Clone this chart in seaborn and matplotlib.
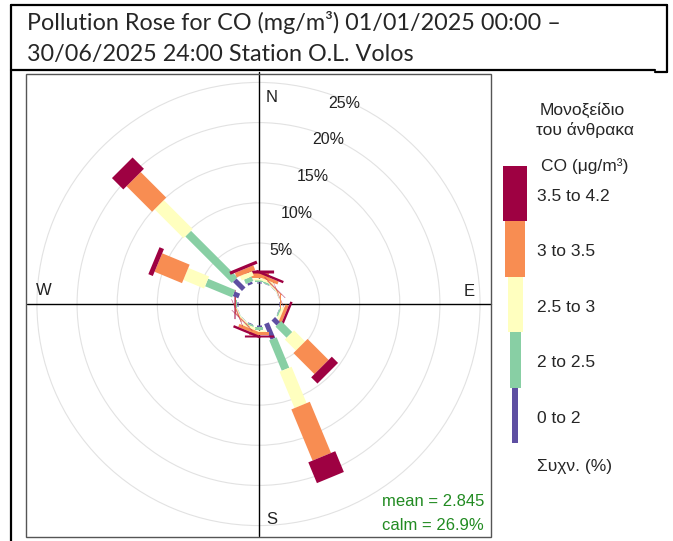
import numpy as np
import matplotlib
matplotlib.use("Agg")
import matplotlib.pyplot as plt
from matplotlib.lines import Line2D
from matplotlib.patches import Rectangle
import seaborn as sns

# wind directions (degrees) and % frequency of each CO interval per direction
directions = [0, 22.5, 45, 67.5, 90, 112.5, 135, 157.5,
              180, 202.5, 225, 247.5, 270, 292.5, 315, 337.5]
co_0_2 = [0.10, 0.05, 0.02, 0.02, 0.02, 0.05, 0.90, 2.10,
          0.30, 0.10, 0.02, 0.02, 0.05, 0.75, 1.60, 0.30]
co_2_25 = [0.30, 0.20, 0.05, 0.03, 0.03, 0.20, 1.95, 4.10,
           0.30, 0.20, 0.05, 0.05, 0.10, 3.65, 8.20, 0.60]
co_25_3 = [0.30, 0.30, 0.10, 0.05, 0.05, 0.30, 1.95, 4.90,
           0.30, 0.30, 0.10, 0.08, 0.10, 2.80, 5.10, 0.60]
co_3_35 = [0.50, 0.40, 0.10, 0.05, 0.10, 0.40, 3.70, 6.90,
           0.40, 0.40, 0.10, 0.10, 0.10, 3.70, 4.50, 0.60]
co_35_42 = [0.40, 0.30, 0.05, 0.03, 0.05, 0.30, 1.10, 2.80,
            0.20, 0.30, 0.05, 0.05, 0.05, 0.60, 2.00, 0.40]

bins = ["0 to 2", "2 to 2.5", "2.5 to 3", "3 to 3.5", "3.5 to 4.2"]
ring_pct = [5, 10, 15, 20, 25]
mean_val = 2.845
calm_pct = 26.9

palette = sns.color_palette(["#5E4FA2", "#88CFA4", "#FFFFBF", "#F88D52", "#9E0142"])
paddle_lw = [3.6, 5.8, 9.4, 14.4, 21.0]    # points
key_w = [6, 11, 15, 20, 24]                 # legend key widths (px)

sns.set_theme(style="white")
plt.rcParams["font.family"] = ["Liberation Sans", "DejaVu Sans"]

W, H = 673, 541
fig = plt.figure(figsize=(W / 100, H / 100), dpi=100)


def fbox(x0, y0, x1, y1):
    return [x0 / W, 1 - y1 / H, (x1 - x0) / W, (y1 - y0) / H]


# table lines and title
for (x0, y0, x1, y1) in [(11, 5, 667, 5), (11, 5, 11, 541), (667, 5, 667, 72),
                         (11, 70, 655, 70), (655, 72, 667, 72)]:
    fig.add_artist(Line2D([x0 / W, x1 / W], [1 - y0 / H, 1 - y1 / H],
                          color="black", lw=1.6))
fig.text(27 / W, 1 - 23 / H, "Pollution Rose for CO (mg/m³) 01/01/2025 00:00 –",
         family=["Lato", "DejaVu Sans"], fontsize=16.8, va="center", ha="left")
fig.text(27 / W, 1 - 55 / H, "30/06/2025 24:00 Station O.L. Volos",
         family=["Lato", "DejaVu Sans"], fontsize=16.8, va="center", ha="left")

# panel border
fig.add_artist(Rectangle((26 / W, 1 - 537 / H), 465 / W, 463 / H,
                         transform=fig.transFigure, fill=False,
                         edgecolor="#555555", lw=1.0))

# rose
ax = fig.add_axes(fbox(26, 72, 491, 536), projection="polar")
ax.set_theta_zero_location("N")
ax.set_theta_direction(-1)
rmin, rmax = -2.6, 26.3
ax.set_ylim(rmin, rmax)
ax.spines["polar"].set_visible(False)
ax.set_facecolor("none")
ax.set_xticks([])
ax.set_yticks(ring_pct)
ax.set_yticklabels([])
ax.yaxis.grid(True, color="#e2e2e2", lw=0.8)
ax.xaxis.grid(False)

for th in [0, np.pi / 2, np.pi, 3 * np.pi / 2]:
    ax.plot([th, th], [rmin, rmax], color="black", lw=1.0, clip_on=False, zorder=2)

series = np.array([co_0_2, co_2_25, co_25_3, co_3_35, co_35_42])
cum = np.vstack([np.zeros(len(directions)), np.cumsum(series, axis=0)])
for i, d in enumerate(directions):
    th = np.deg2rad(d)
    for j in range(len(bins)):
        ax.plot([th, th], [cum[j, i], cum[j + 1, i]], color=palette[j],
                lw=paddle_lw[j], solid_capstyle="butt", zorder=3)

for p in ring_pct:
    ax.text(np.deg2rad(23), p - 0.4, f"{p}%", fontsize=11.5, color="#222222",
            ha="center", va="center", zorder=4)

for lab, ang, r in [("N", 3.6, 23.2), ("E", 86.7, 23.7), ("S", 176.6, 24.3), ("W", 273.7, 24.2)]:
    ax.text(np.deg2rad(ang), r, lab, fontsize=12, color="#222222",
            ha="center", va="center")

fig.text(484 / W, 1 - 502 / H, f"mean = {mean_val}", color="forestgreen",
         fontsize=12, ha="right", va="center")
fig.text(484 / W, 1 - 525 / H, f"calm = {calm_pct}%", color="forestgreen",
         fontsize=12, ha="right", va="center")

# legend
lg = fig.add_axes(fbox(495, 166, 665, 443))
lg.set_xlim(0, 170)
lg.set_ylim(0, len(bins))
lg.axis("off")
for j, lab in enumerate(bins):
    lg.bar(20, 1, bottom=j, width=key_w[j], color=palette[j], linewidth=0)
    lg.text(42, j + 0.45, lab, fontsize=12.5, va="center", ha="left")

fig.text(582 / W, 1 - 110 / H, "Μονοξείδιο", fontsize=12.5, ha="center", va="center")
fig.text(585 / W, 1 - 130 / H, "του άνθρακα", fontsize=12.5, ha="center", va="center")
fig.text(585 / W, 1 - 166 / H, "CO (μg/m³)", fontsize=12.5, ha="center", va="center")
fig.text(537 / W, 1 - 467 / H, "Συχν. (%)", fontsize=12.5, ha="left", va="center")

fig.savefig("out.png", dpi=100)
